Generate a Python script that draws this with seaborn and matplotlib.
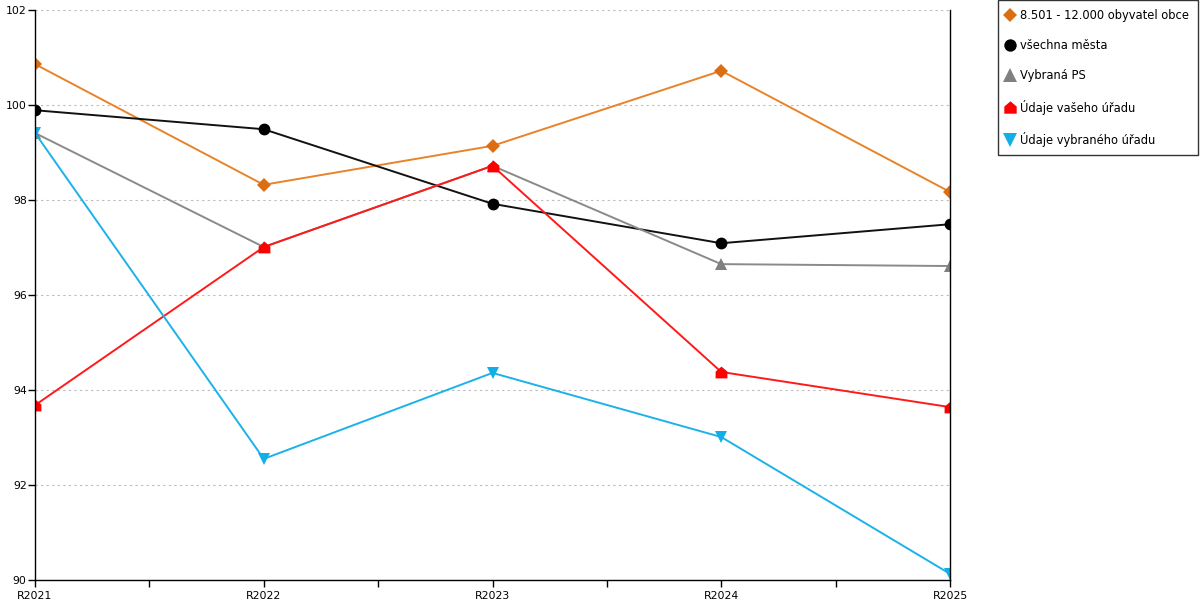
import numpy as np
import pandas as pd
import matplotlib
matplotlib.use("Agg")
import matplotlib.pyplot as plt
import seaborn as sns
from matplotlib.path import Path
from matplotlib.lines import Line2D
from matplotlib.ticker import MultipleLocator

years = ["R2021", "R2022", "R2023", "R2024", "R2025"]

obce_8501 = [100.86, 98.32, 99.14, 100.72, 98.17]
vsechna_mesta = [99.89, 99.49, 97.92, 97.09, 97.49]
vybrana_ps = [99.41, 97.01, 98.72, 96.65, 96.61]
vas_urad = [93.68, 97.01, 98.72, 94.38, 93.64]
vybrany_urad = [99.41, 92.55, 94.36, 93.01, 90.13]

labels = ["8.501 - 12.000 obyvatel obce", "všechna města", "Vybraná PS",
          "Údaje vašeho úřadu", "Údaje vybraného úřadu"]

# "house" marker for the red series
house = Path([(-1, -1), (1, -1), (1, 0.15), (0, 1), (-1, 0.15), (-1, -1)],
             [Path.MOVETO, Path.LINETO, Path.LINETO, Path.LINETO, Path.LINETO, Path.CLOSEPOLY])

series = [obce_8501, vsechna_mesta, vybrana_ps, vas_urad, vybrany_urad]
colors = ["#E8832A", "#111111", "#8A8A8A", "#FF1A1A", "#1CB2E8"]
mcolors = ["#DB6E12", "#000000", "#808080", "#FF0000", "#12AEE8"]
markers = ["D", "o", "^", house, "v"]
msizes = [7, 8.5, 9, 8.5, 9]

sns.set_style("white")
fig = plt.figure(figsize=(12, 6), dpi=100)
ax = fig.add_axes([35 / 1200, 20 / 600, 915 / 1200, 570 / 600])

for vals, lab, c, mc, m, ms in zip(series, labels, colors, mcolors, markers, msizes):
    sns.lineplot(x=years, y=vals, ax=ax, color=c, linewidth=1.4, marker=m,
                 markersize=ms, markerfacecolor=mc, markeredgecolor=mc,
                 markeredgewidth=0, sort=False, legend=False)

ax.set_xlim(0, 4)
ax.set_ylim(90, 102)
ax.yaxis.set_major_locator(MultipleLocator(2))
ax.xaxis.set_minor_locator(MultipleLocator(0.5))
ax.grid(axis="y", color="#BBBBBB", linestyle=(0, (2, 3)), linewidth=0.8)
ax.set_axisbelow(True)

for s in ["left", "bottom", "right"]:
    ax.spines[s].set_visible(True)
    ax.spines[s].set_color("black")
    ax.spines[s].set_linewidth(1)
ax.spines["top"].set_visible(False)

ax.tick_params(axis="both", which="both", direction="out", length=5, width=1,
               color="black", labelcolor="black", labelsize=7.8, pad=1)
ax.tick_params(axis="x", which="major", pad=3)
ax.tick_params(axis="y", which="both", left=True, right=False)
ax.tick_params(axis="x", which="both", bottom=True)
ax.set_xlabel("")
ax.set_ylabel("")

handles = [Line2D([], [], linestyle="none", marker=m, markersize=ms * 1.05,
                  markerfacecolor=mc, markeredgecolor=mc, markeredgewidth=0)
           for m, mc, ms in zip(markers, mcolors, msizes)]
leg = fig.legend(handles, labels, loc="upper left", bbox_to_anchor=(998 / 1200, 1.0),
                 frameon=True, fancybox=False, edgecolor="black", fontsize=8.3,
                 handlelength=0.5, handletextpad=0.7, labelspacing=1.5,
                 borderpad=0.75, borderaxespad=0, labelcolor="black")
leg.get_frame().set_linewidth(1)

fig.savefig("out.png", dpi=100)
